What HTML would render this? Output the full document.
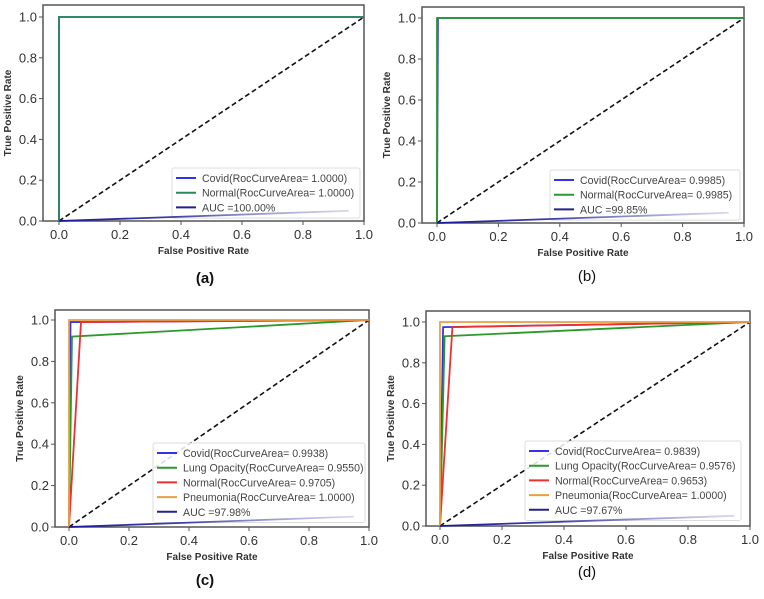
<!DOCTYPE html>
<html><head><meta charset="utf-8"><style>
body{margin:0;background:#fff;width:764px;height:594px;overflow:hidden}
svg text{font-family:"Liberation Sans",sans-serif}
</style></head><body>
<svg id="s" width="764" height="594"></svg>
<script>
const xTicks=[0,0.2,0.4,0.6,0.8,1.0];
const yTicks=[0,0.2,0.4,0.6,0.8,1.0];
const tickLabels=["0.0","0.2","0.4","0.6","0.8","1.0"];
const aCovid=[[0,0],[0,1],[1,1]];
const aNormal=[[0,0],[0,1],[1,1]];
const bCovid=[[0,0],[0.003,1],[1,1]];
const bNormal=[[0,0],[0,1],[1,1]];
const cCovid=[[0,0],[0.005,0.99],[1,1]];
const cLung=[[0,0],[0.01,0.92],[1,1]];
const cNormal=[[0,0],[0.04,0.99],[1,1]];
const cPneu=[[0,0],[0,1],[1,1]];
const dCovid=[[0,0],[0.01,0.975],[1,1]];
const dLung=[[0,0],[0.015,0.93],[1,1]];
const dNormal=[[0,0],[0.04,0.975],[1,1]];
const dPneu=[[0,0],[0,1],[1,1]];
const aucLine=[[0,0],[0.95,0.05]];
const legendA=["Covid(RocCurveArea= 1.0000)","Normal(RocCurveArea= 1.0000)"," AUC =100.00%"];
const legendB=["Covid(RocCurveArea= 0.9985)","Normal(RocCurveArea= 0.9985)"," AUC =99.85%"];
const legendC=["Covid(RocCurveArea= 0.9938)","Lung Opacity(RocCurveArea= 0.9550)","Normal(RocCurveArea= 0.9705)","Pneumonia(RocCurveArea= 1.0000)"," AUC =97.98%"];
const legendD=["Covid(RocCurveArea= 0.9839)","Lung Opacity(RocCurveArea= 0.9576)","Normal(RocCurveArea= 0.9653)","Pneumonia(RocCurveArea= 1.0000)"," AUC =97.67%"];

const NS="http://www.w3.org/2000/svg",svg=document.getElementById('s');
function mk(t,a,p){const e=document.createElementNS(NS,t);for(const k in a)e.setAttribute(k,a[k]);(p||svg).appendChild(e);return e;}
const defs=mk('defs',{});
const lg=mk('linearGradient',{id:'aucg',x1:'0',x2:'1',y1:'0',y2:'0'},defs);
mk('stop',{offset:'0','stop-color':'#1a1a9a','stop-opacity':'1'},lg);
mk('stop',{offset:'0.4','stop-color':'#2a2aa0','stop-opacity':'0.9'},lg);
mk('stop',{offset:'1','stop-color':'#8080c0','stop-opacity':'0.3'},lg);

function panel(id,P,series,colors,labels,L,cap){
  const g=mk('g',{});
  
  
  const X=v=>P.x0+v*(P.x1-P.x0), Y=v=>P.y0-v*(P.y0-P.y1);
  const fr=mk('rect',{x:P.fl,y:P.ft,width:P.x1-P.fl,height:P.y0-P.ft,fill:'#fff',stroke:'#555','stroke-width':1.5},g);
  
  xTicks.forEach((v,i)=>{mk('line',{x1:X(v),x2:X(v),y1:P.y0,y2:P.y0+4,stroke:'#555'},g);
    const t=mk('text',{x:X(v),y:P.y0+18,'font-size':13,fill:'#333','text-anchor':'middle'},g);t.textContent=tickLabels[i];
    });
  yTicks.forEach((v,i)=>{mk('line',{x1:P.fl,x2:P.fl-4,y1:Y(v),y2:Y(v),stroke:'#555'},g);
    const t=mk('text',{x:P.fl-6,y:Y(v)+4.5,'font-size':13,fill:'#333','text-anchor':'end'},g);t.textContent=tickLabels[i];
    });
  const xl=mk('text',{x:(P.fl+P.x1)/2,y:P.y0+33,'font-size':10,'font-weight':'bold',fill:'#333','text-anchor':'middle'},g);xl.textContent='False Positive Rate';
  
  const yl=mk('text',{x:0,y:0,'font-size':10,'font-weight':'bold',fill:'#333','text-anchor':'middle',transform:`translate(${P.fl-32},${(P.ft+P.y0)/2}) rotate(-90)`},g);yl.textContent='True Positive Rate';
  
  const dg=mk('line',{x1:X(0),y1:Y(0),x2:X(1),y2:Y(1),stroke:'#111','stroke-width':1.6,'stroke-dasharray':'5,3'},g);
  
  const n=labels.length;
  const lb=mk('rect',{x:L.x,y:L.y,width:L.w,height:n*14.7+6,fill:'#fff','fill-opacity':0.85,stroke:'#ddd',rx:2},g);
  
  series.forEach((s,i)=>{
    const pl=mk('polyline',{points:s.map(p=>X(p[0])+','+Y(p[1])).join(' '),fill:'none',stroke:colors[i],'stroke-width':1.8},g);
    
  });
  const au=mk('line',{x1:X(aucLine[0][0]),y1:Y(aucLine[0][1]),x2:X(aucLine[1][0]),y2:Y(aucLine[1][1]),stroke:'url(#aucg)','stroke-width':1.8},g);
  
  labels.forEach((t,i)=>{
    const yy=L.y+10+i*14.7;
    mk('line',{x1:L.x+4,x2:L.x+24,y1:yy,y2:yy,stroke:i==n-1?'#22228a':colors[i],'stroke-width':2},g);
    const tx=mk('text',{x:L.x+30,y:yy+4,'font-size':10.6,fill:'#444'},g);tx.textContent=t;
    
  });
  const c=mk('text',{x:cap[0],y:cap[1],'font-size':15,'font-family':'Liberation Serif',fill:'#111','text-anchor':'middle','font-weight':id=='a'||id=='c'?'bold':'normal'},g);
  c.textContent='('+id+')';
}
const c2=['#3333ee','#2a9a2a'], c4=['#3333ee','#2a9a2a','#ee3030','#e8a040'];
panel('a',{fl:43,ft:5,x0:59,x1:364,y1:17,y0:221},[aCovid,aNormal],['#3333ee','#2a8a5a'],legendA,{x:172,y:168,w:188},[205,283]);
panel('b',{fl:422,ft:7,x0:437,x1:744,y1:18,y0:223},[bCovid,bNormal],c2,legendB,{x:550,y:170,w:190},[587,281]);
panel('c',{fl:55,ft:310,x0:69,x1:369,y1:320,y0:527},[cCovid,cLung,cNormal,cPneu],c4,legendC,{x:153,y:443,w:212},[205,585]);
panel('d',{fl:426,ft:311,x0:440,x1:750,y1:322,y0:526},[dCovid,dLung,dNormal,dPneu],c4,legendD,{x:525,y:441,w:216},[587,577]);
</script></body></html>
